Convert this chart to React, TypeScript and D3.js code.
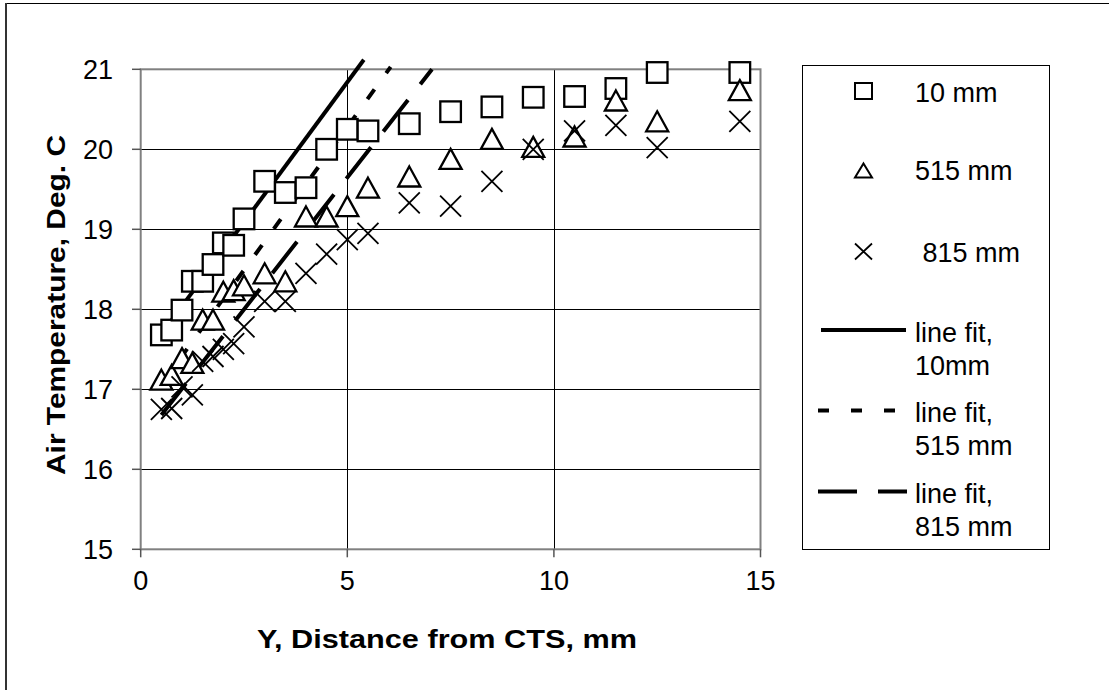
import React from "react";
import * as d3 from "d3";

const distances = [0.5, 0.75, 1, 1.25, 1.5, 1.75, 2, 2.25, 2.5, 3, 3.5, 4, 4.5, 5, 5.5, 6.5, 7.5, 8.5, 9.5, 10.5, 11.5, 12.5, 14.5];
const temp10 = [17.68, 17.74, 17.99, 18.35, 18.35, 18.56, 18.83, 18.8, 19.13, 19.6, 19.46, 19.52, 20.0, 20.25, 20.23, 20.32, 20.47, 20.53, 20.65, 20.66, 20.76, 20.96, 20.96];
const temp515 = [17.12, 17.18, 17.39, 17.33, 17.87, 17.87, 18.22, 18.24, 18.3, 18.45, 18.35, 19.16, 19.16, 19.29, 19.52, 19.66, 19.88, 20.13, 20.03, 20.16, 20.61, 20.35, 20.74];
const temp815 = [16.75, 16.76, 17.03, 16.93, 17.35, 17.41, 17.5, 17.57, 17.78, 18.1, 18.1, 18.45, 18.69, 18.87, 18.95, 19.33, 19.29, 19.6, 20.0, 20.23, 20.3, 20.02, 20.35];

const fit10 = [{ x: 0.5, y: 17.69 }, { x: 5.4, y: 21.12 }];
const fit515 = [{ x: 0.5, y: 17.06 }, { x: 6.05, y: 21.03 }];
const fit815 = [{ x: 0.5, y: 16.68 }, { x: 7.05, y: 21.0 }];

const xTicks = [0, 5, 10, 15];
const yTicks = [15, 16, 17, 18, 19, 20, 21];

const FONT = "Arial, 'Liberation Sans', sans-serif";

export default function App() {
  const x = d3.scaleLinear().domain([0, 15]).range([140.7, 760.5]);
  const y = d3.scaleLinear().domain([15, 21]).range([549.3, 69.3]);
  const line = d3.line<{ x: number; y: number }>().x((d) => x(d.x)).y((d) => y(d.y));

  const sq = 10.3;
  const tri = (cx: number, cy: number, w: number, h: number) =>
    `M${cx},${cy - h / 2} L${cx + w / 2},${cy + h / 2} L${cx - w / 2},${cy + h / 2} Z`;
  const cross = (cx: number, cy: number, hw: number, hh: number) =>
    `M${cx - hw},${cy - hh} L${cx + hw},${cy + hh} M${cx - hw},${cy + hh} L${cx + hw},${cy - hh}`;

  const [px0, px1] = x.range();
  const [py0, py1] = y.range();

  return (
    <svg width={1109} height={690} style={{ position: "absolute", left: 0, top: 0, background: "#fff" }} fontFamily={FONT}>
      <rect x={0} y={0} width={1109} height={690} fill="#fff" />
      {/* outer frame (top & left visible) */}
      <line x1={5} y1={3.5} x2={1109} y2={3.5} stroke="#000" strokeWidth={1} />
      <line x1={6} y1={3} x2={6} y2={690} stroke="#333" strokeWidth={2} />

      {/* gridlines */}
      {yTicks.slice(1, -1).map((t) => (
        <line key={"gy" + t} x1={px0} x2={px1} y1={Math.round(y(t)) + 0.5} y2={Math.round(y(t)) + 0.5} stroke="#000" strokeWidth={1} />
      ))}
      {xTicks.slice(1, -1).map((t) => (
        <line key={"gx" + t} y1={py1} y2={py0} x1={Math.round(x(t)) + 0.5} x2={Math.round(x(t)) + 0.5} stroke="#000" strokeWidth={1} />
      ))}
      {/* plot border */}
      <rect x={px0} y={py1} width={px1 - px0} height={py0 - py1} fill="none" stroke="#808080" strokeWidth={2} />
      {/* ticks */}
      {yTicks.map((t) => (
        <line key={"ty" + t} x1={132} x2={px0} y1={y(t)} y2={y(t)} stroke="#555" strokeWidth={1.5} />
      ))}
      {xTicks.map((t) => (
        <line key={"tx" + t} x1={x(t)} x2={x(t)} y1={py0} y2={py0 + 8} stroke="#555" strokeWidth={1.5} />
      ))}
      {/* tick labels */}
      {yTicks.map((t) => (
        <text key={"ly" + t} x={113} y={y(t) + 9.5} textAnchor="end" fontSize={27}>{t}</text>
      ))}
      {xTicks.map((t) => (
        <text key={"lx" + t} x={x(t)} y={590} textAnchor="middle" fontSize={27}>{t}</text>
      ))}

      {/* axis titles */}
      <text x={447} y={648} textAnchor="middle" fontSize={25} fontWeight="bold" textLength={380} lengthAdjust="spacingAndGlyphs">
        Y, Distance from CTS, mm
      </text>
      <text transform={`translate(65,305) rotate(-90)`} textAnchor="middle" fontSize={25} fontWeight="bold" textLength={340} lengthAdjust="spacingAndGlyphs">
        Air Temperature, Deg. C
      </text>

      {/* fit lines */}
      <path d={line(fit10) || ""} fill="none" stroke="#000" strokeWidth={4} />
      <path d={line(fit515) || ""} fill="none" stroke="#000" strokeWidth={4} strokeDasharray="12 20" />
      <path d={line(fit815) || ""} fill="none" stroke="#000" strokeWidth={4} strokeDasharray="40 20" />

      {/* markers */}
      {distances.map((d, i) => (
        <rect key={"s" + i} x={x(d) - sq} y={y(temp10[i]) - sq} width={sq * 2} height={sq * 2} fill="#fff" stroke="#000" strokeWidth={2.3} />
      ))}
      {distances.map((d, i) => (
        <path key={"t" + i} d={tri(x(d), y(temp515[i]), 22, 20)} fill="#fff" stroke="#000" strokeWidth={2.3} strokeLinejoin="miter" />
      ))}
      {distances.map((d, i) => (
        <path key={"c" + i} d={cross(x(d), y(temp815[i]), 10.5, 10.5)} fill="none" stroke="#000" strokeWidth={1.8} />
      ))}

      {/* legend */}
      <rect x={802.5} y={65.5} width={247} height={484} fill="#fff" stroke="#000" strokeWidth={1} />
      <rect x={855} y={83} width={17} height={16} fill="#fff" stroke="#000" strokeWidth={2} />
      <text x={915} y={101.5} fontSize={27}>10 mm</text>
      <path d={tri(863.5, 170.5, 17, 14)} fill="#fff" stroke="#000" strokeWidth={2} />
      <text x={915} y={180} fontSize={27}>515 mm</text>
      <path d={cross(863.5, 251.5, 8.5, 8)} fill="none" stroke="#000" strokeWidth={1.8} />
      <text x={915} y={261.5} fontSize={27} style={{ whiteSpace: "pre" }}>{" 815 mm"}</text>

      <line x1={821} x2={906} y1={330} y2={330} stroke="#000" strokeWidth={4} />
      <text x={915} y={341.5} fontSize={27}>line fit,</text>
      <text x={915} y={375} fontSize={27}>10mm</text>

      <line x1={818} x2={906} y1={410.5} y2={410.5} stroke="#000" strokeWidth={4} strokeDasharray="11 22" />
      <text x={915} y={421.5} fontSize={27}>line fit,</text>
      <text x={915} y={455} fontSize={27}>515 mm</text>

      <line x1={818} x2={907} y1={491.5} y2={491.5} stroke="#000" strokeWidth={4} strokeDasharray="39 21" />
      <text x={915} y={503} fontSize={27}>line fit,</text>
      <text x={915} y={536} fontSize={27}>815 mm</text>
    </svg>
  );
}
